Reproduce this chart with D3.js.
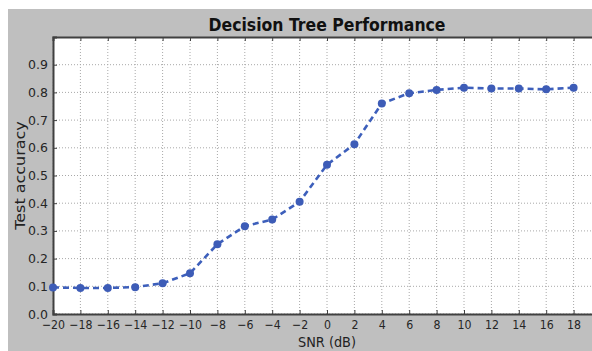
<!DOCTYPE html>
<html>
<head>
<meta charset="utf-8">
<script src="https://cdn.jsdelivr.net/npm/d3@7"></script>
<style>
  html, body { margin: 0; padding: 0; background: #fff; }
  svg { display: block; font-family: "DejaVu Sans", sans-serif; }
</style>
</head>
<body>
<svg id="chart" width="592" height="351"></svg>
<script>
// SNR sweep and decision-tree test accuracy at each level
const snrDb = [-20, -18, -16, -14, -12, -10, -8, -6, -4, -2, 0, 2, 4, 6, 8, 10, 12, 14, 16, 18];
const accuracy = [0.096, 0.094, 0.094, 0.097, 0.111, 0.147, 0.252, 0.317, 0.341, 0.405,
                  0.539, 0.613, 0.760, 0.797, 0.809, 0.817, 0.814, 0.814, 0.811, 0.817];
const xTicks = [-20, -18, -16, -14, -12, -10, -8, -6, -4, -2, 0, 2, 4, 6, 8, 10, 12, 14, 16, 18];
const yTicks = [0.0, 0.1, 0.2, 0.3, 0.4, 0.5, 0.6, 0.7, 0.8, 0.9];

const svg = d3.select("#chart");
const W = 592, H = 351;
const plot = { left: 53, top: 37, right: 601, bottom: 314 };

// figure background
svg.append("rect").attr("x", 8).attr("y", 9).attr("width", W - 8).attr("height", H - 9)
  .attr("fill", "#bfbfbf");

const x = d3.scaleLinear().domain([-20, 20]).range([plot.left, plot.right]);
const y = d3.scaleLinear().domain([0, 1.0]).range([plot.bottom, plot.top]);

// axes area
svg.append("rect").attr("x", plot.left).attr("y", plot.top)
  .attr("width", plot.right - plot.left).attr("height", plot.bottom - plot.top)
  .attr("fill", "#ffffff");

// grid
const grid = svg.append("g").attr("stroke", "#a8a8a8").attr("stroke-width", 1)
  .attr("stroke-dasharray", "1,2");
grid.selectAll("line.gx").data(xTicks).join("line")
  .attr("x1", d => x(d)).attr("x2", d => x(d))
  .attr("y1", plot.top).attr("y2", plot.bottom);
grid.selectAll("line.gy").data(yTicks).join("line")
  .attr("x1", plot.left).attr("x2", plot.right)
  .attr("y1", d => y(d)).attr("y2", d => y(d));

// axes with inward ticks
const xAxis = d3.axisBottom(x).tickValues(xTicks).tickSize(-4).tickPadding(6)
  .tickFormat(d => d < 0 ? "\u2212" + Math.abs(d) : d);
const gx = svg.append("g").attr("transform", `translate(0,${plot.bottom})`).call(xAxis);
const xTop = d3.axisTop(x).tickValues(xTicks).tickSize(-4).tickFormat("");
const gxt = svg.append("g").attr("transform", `translate(0,${plot.top})`).call(xTop);
const yAxis = d3.axisLeft(y).tickValues(yTicks).tickSize(-4).tickPadding(5)
  .tickFormat(d3.format(".1f"));
const gy = svg.append("g").attr("transform", `translate(${plot.left},0)`).call(yAxis);

[gx, gxt, gy].forEach(g => {
  g.select(".domain").attr("stroke", "#404040").attr("stroke-width", 2);
  g.selectAll(".tick line").attr("stroke", "#404040").attr("stroke-width", 1);
  g.selectAll(".tick text").attr("fill", "#262626").attr("font-size", 12.5)
    .attr("font-family", "DejaVu Sans, sans-serif");
});
gx.selectAll(".tick text").attr("font-size", 12.5).attr("transform", "scale(0.88,1)");

// data line and markers
const line = d3.line().x((d, i) => x(snrDb[i])).y(d => y(d));
svg.append("path").datum(accuracy)
  .attr("d", line).attr("fill", "none")
  .attr("stroke", "#3d5fbb").attr("stroke-width", 2.6)
  .attr("stroke-dasharray", "6,4");
svg.selectAll("circle.pt").data(accuracy).join("circle")
  .attr("class", "pt")
  .attr("cx", (d, i) => x(snrDb[i])).attr("cy", d => y(d)).attr("r", 4)
  .attr("fill", "#3d5cb7");

// title and axis labels
const cx = (plot.left + plot.right) / 2;
svg.append("text").attr("x", cx).attr("y", 30.5)
  .attr("text-anchor", "middle").attr("font-size", 18.5).attr("font-weight", "bold")
  .attr("textLength", 237).attr("lengthAdjust", "spacingAndGlyphs")
  .attr("fill", "#111").text("Decision Tree Performance");
svg.append("text").attr("x", cx).attr("y", 347)
  .attr("text-anchor", "middle").attr("font-size", 14.5).attr("fill", "#222")
  .attr("textLength", 58).attr("lengthAdjust", "spacingAndGlyphs")
  .text("SNR (dB)");
svg.append("text")
  .attr("transform", `translate(25,${(plot.top + plot.bottom) / 2}) scale(0.85,1) rotate(-90)`)
  .attr("text-anchor", "middle").attr("font-size", 16).attr("fill", "#222")
  .text("Test accuracy");
</script>
</body>
</html>
